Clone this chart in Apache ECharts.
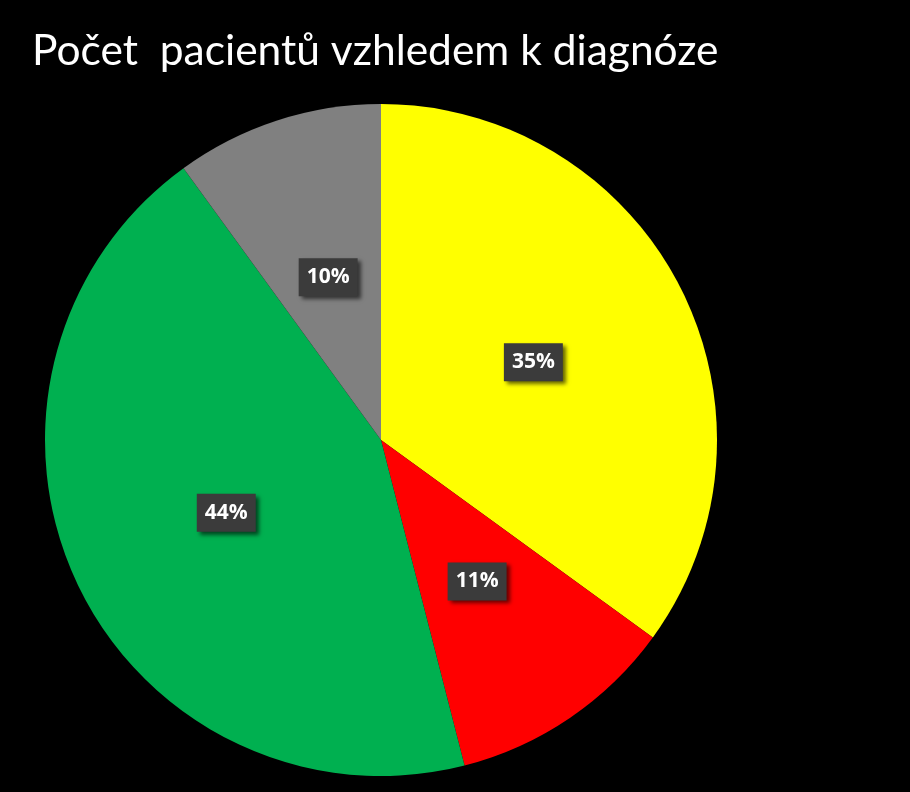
<!DOCTYPE html>
<html lang="cs">
<head>
	<meta charset="UTF-8">
	<title>Počet pacientů vzhledem k diagnóze</title>
	<style>
		html, body { margin: 0; padding: 0; background: #000; }
	</style>
</head>
<body>
	<div id="main" style="width: 910px;height: 792px"></div>
	<script src="https://cdn.jsdelivr.net/npm/echarts@6/dist/echarts.min.js"></script>
	<script>
		// hodnoty (v procentech)
		var diagnozy = ['Diagnóza 1', 'Diagnóza 2', 'Diagnóza 3', 'Diagnóza 4']
		var pocty = [35, 11, 44, 10]
		var barvy = ['#ffff00', '#ff0000', '#00b050', '#808080']

		var myChart = echarts.init(document.getElementById('main'));
		var option = {
			backgroundColor: '#000',
			animation: false,
			title: {
				text: 'Počet  pacientů vzhledem k diagnóze',
				left: 27,
				top: 25,
				textStyle: {
					color: '#fff',
					fontFamily: 'Lato',
					fontWeight: 'normal',
					fontSize: 42.5
				}
			},
			series: [{
				type: 'pie',
				center: [381, 440],
				radius: 336,
				startAngle: 90,
				clockwise: true,
				data: diagnozy.map(function (n, i) {
					return { name: n, value: pocty[i], itemStyle: { color: barvy[i] } }
				}),
				label: {
					show: true,
					position: 'inside',
					formatter: function (p) { return Math.round(p.percent) + '%' },
					color: '#fff',
					fontFamily: 'Open Sans',
					fontWeight: 'bold',
					fontSize: 21,
					backgroundColor: '#3b3b3b',
					padding: [9, 8, 8, 8],
					shadowColor: 'rgba(0,0,0,0.6)',
					shadowBlur: 4,
					shadowOffsetX: 3,
					shadowOffsetY: 3
				},
				labelLine: { show: false },
				itemStyle: { borderWidth: 0 },
				emphasis: { disabled: true }
			}]
		};
		myChart.setOption(option);
	</script>
</body>
</html>
